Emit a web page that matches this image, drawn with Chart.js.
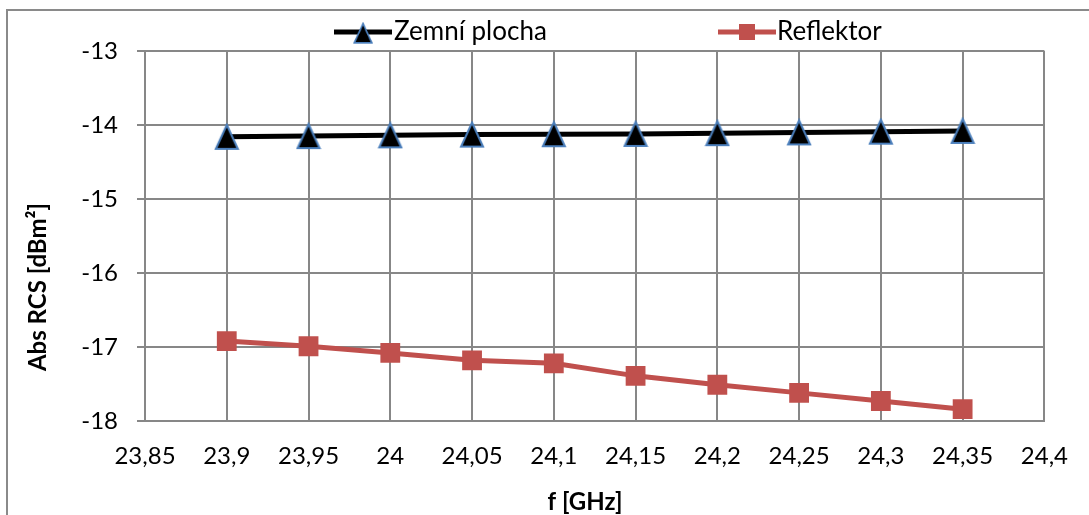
<!DOCTYPE html>
<html lang="cs">
<head>
    <meta charset="UTF-8">
    <title>Abs RCS</title>
    <script src="https://cdn.jsdelivr.net/npm/chart.js"></script>
    <style>
        body { margin: 0; background: #fff; }
        #wrap { width: 1089px; height: 515px; }
    </style>
</head>
<body>
    <div id="wrap"><canvas id="rcsChart" width="1089" height="515"></canvas></div>

    <script>
        // data
        const freqs = [23.9, 23.95, 24.0, 24.05, 24.1, 24.15, 24.2, 24.25, 24.3, 24.35];
        const zemniPlocha = [-14.16, -14.15, -14.14, -14.13, -14.125, -14.12, -14.11, -14.10, -14.09, -14.08];
        const reflektor = [-16.92, -16.99, -17.08, -17.18, -17.22, -17.39, -17.51, -17.62, -17.73, -17.84];
        const xTicks = [23.85, 23.9, 23.95, 24.0, 24.05, 24.1, 24.15, 24.2, 24.25, 24.3, 24.35, 24.4];
        const yTicks = [-18, -17, -16, -15, -14, -13];
        const seriesNames = ['Zemní plocha', 'Reflektor'];

        const FONT = 'Lato, "Open Sans", sans-serif';
        const GRID = '#878787';
        const RED = '#c0504d';

        // Excel-like triangle marker (slightly taller than equilateral)
        function triangleMarker(w, h) {
            const c = document.createElement('canvas');
            c.width = w + 4; c.height = h + 4;
            const g = c.getContext('2d');
            g.beginPath();
            g.moveTo(c.width / 2, 2);
            g.lineTo(c.width - 2, h + 2);
            g.lineTo(2, h + 2);
            g.closePath();
            g.fillStyle = '#000';
            g.fill();
            g.lineWidth = 2;
            g.strokeStyle = '#4a7ebb';
            g.stroke();
            return c;
        }
        const tri = triangleMarker(22, 24);

        const toPts = ys => freqs.map((f, i) => ({ x: f, y: ys[i] }));
        const fmt = v => String(Math.round(v * 100) / 100).replace('.', ',');

        // frame, legend and axis titles
        const decor = {
            id: 'decor',
            beforeDraw(chart) {
                const ctx = chart.ctx;
                ctx.save();
                ctx.strokeStyle = '#8a8a8a';
                ctx.lineWidth = 2;
                ctx.strokeRect(7, 10, 1200, 700);
                ctx.restore();
            },
            afterDraw(chart) {
                const ctx = chart.ctx;
                const a = chart.chartArea;
                ctx.save();
                ctx.fillStyle = '#000';
                ctx.font = 'bold 24px ' + FONT;
                ctx.textAlign = 'center';
                ctx.textBaseline = 'middle';
                ctx.fillText('f [GHz]', 585, 502);
                ctx.save();
                ctx.translate(38, 287);
                ctx.rotate(-Math.PI / 2);
                ctx.fillText('Abs RCS [dBm²]', 0, 0);
                ctx.restore();

                // legend
                const ly = 32;
                ctx.lineWidth = 5;
                ctx.strokeStyle = '#000';
                ctx.beginPath(); ctx.moveTo(334, ly); ctx.lineTo(392, ly); ctx.stroke();
                ctx.drawImage(tri, 363 - tri.width * 0.4, ly - 10, tri.width * 0.8, tri.height * 0.8);
                ctx.strokeStyle = RED;
                ctx.beginPath(); ctx.moveTo(718, ly); ctx.lineTo(776, ly); ctx.stroke();
                ctx.fillStyle = RED;
                ctx.fillRect(739, ly - 8, 16, 16);
                ctx.fillStyle = '#000';
                ctx.font = '26px ' + FONT;
                ctx.textAlign = 'left';
                ctx.fillText(seriesNames[0], 394, ly);
                ctx.fillText(seriesNames[1], 777, ly);
                ctx.restore();
            }
        };

        new Chart(document.getElementById('rcsChart'), {
            type: 'line',
            data: {
                datasets: [{
                    label: seriesNames[0],
                    data: toPts(zemniPlocha),
                    borderColor: '#000',
                    borderWidth: 5,
                    pointStyle: tri,
                    pointRadius: 12,
                    tension: 0
                }, {
                    label: seriesNames[1],
                    data: toPts(reflektor),
                    borderColor: RED,
                    backgroundColor: RED,
                    borderWidth: 5,
                    pointStyle: 'rect',
                    pointRadius: 14,
                    pointBorderWidth: 0,
                    tension: 0
                }]
            },
            options: {
                responsive: false,
                animation: false,
                layout: { padding: { top: 51, right: 38, left: 0, bottom: 0 } },
                plugins: { legend: { display: false }, tooltip: { enabled: false } },
                scales: {
                    x: {
                        type: 'linear',
                        min: xTicks[0],
                        max: xTicks[xTicks.length - 1],
                        afterBuildTicks: s => { s.ticks = xTicks.map(v => ({ value: v })); },
                        afterFit: s => { s.height = 94; },
                        grid: { color: GRID, lineWidth: 2, drawTicks: false },
                        border: { color: GRID, width: 2 },
                        ticks: {
                            padding: 21,
                            color: '#000',
                            font: { family: FONT, size: 24 },
                            maxRotation: 0,
                            autoSkip: false,
                            callback: v => fmt(v)
                        }
                    },
                    y: {
                        min: yTicks[0],
                        max: yTicks[yTicks.length - 1],
                        afterBuildTicks: s => { s.ticks = yTicks.map(v => ({ value: v })); },
                        afterFit: s => { s.width = 145; },
                        grid: { color: GRID, lineWidth: 2, tickLength: 8 },
                        border: { color: GRID, width: 2 },
                        ticks: {
                            padding: 19,
                            color: '#000',
                            font: { family: FONT, size: 24 },
                            callback: v => fmt(v)
                        }
                    }
                }
            },
            plugins: [decor]
        });
    </script>
</body>
</html>
